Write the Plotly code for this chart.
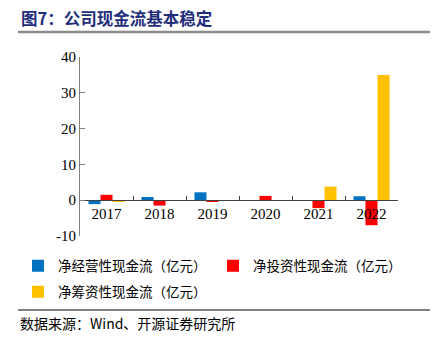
import plotly.graph_objects as go

years = ["2017", "2018", "2019", "2020", "2021", "2022"]
operating = [-1.1, 0.9, 2.2, -0.1, -0.2, 1.1]
investing = [1.5, -1.5, -0.4, 1.2, -2.2, -7.0]
financing = [-0.3, -0.1, -0.1, -0.2, 3.8, 35.0]
series_names = ["净经营性现金流（亿元）", "净投资性现金流（亿元）", "净筹资性现金流（亿元）"]
colors = ["#0070C0", "#FF0000", "#FFC000"]
legend_ids = ["legend", "legend", "legend2"]
y_ticks = [-10, 0, 10, 20, 30, 40]
y_ticktext = ["-10", "0", "10", "20", "30", "40"]
title_text = "图7：公司现金流基本稳定"
source_text = "数据来源：Wind、开源证券研究所"

W, H = 435, 339
L, R, T, B = 80, 37, 57, 103
PW, PH = W - L - R, H - T - B


def px_x(x):
    return (x - L) / PW


def px_y(y):
    return (H - B - y) / PH


fig = go.Figure()
for name, vals, c, lg in zip(series_names, [operating, investing, financing], colors, legend_ids):
    fig.add_trace(go.Bar(x=years, y=vals, name=name, marker_color=c, marker_line_width=0, legend=lg))

ymin, ymax = -10, 40
zero_pos = (0 - ymin) / (ymax - ymin)
legend_font = dict(family="Noto Sans CJK SC", size=13.5, color="#000")

fig.update_layout(
    width=W, height=H,
    margin=dict(l=L, r=R, t=T, b=B),
    paper_bgcolor="white", plot_bgcolor="white",
    barmode="group", bargap=0.32, bargroupgap=0,
    font=dict(family="Liberation Serif", size=14, color="#000"),
    showlegend=True,
    legend=dict(
        orientation="h", x=px_x(18), y=px_y(266), xanchor="left", yanchor="middle",
        entrywidth=150, entrywidthmode="pixels", font=legend_font,
        bgcolor="rgba(0,0,0,0)", traceorder="normal",
    ),
    legend2=dict(
        orientation="h", x=px_x(18), y=px_y(292), xanchor="left", yanchor="middle",
        entrywidth=150, entrywidthmode="pixels", font=legend_font,
        bgcolor="rgba(0,0,0,0)",
    ),
    xaxis=dict(
        anchor="free", position=zero_pos, showline=True, linecolor="#404040", linewidth=1,
        ticks="inside", tickson="boundaries", ticklen=4, tickcolor="#404040",
        showgrid=False, zeroline=False,
        tickfont=dict(family="Liberation Serif", size=15, color="#000"),
    ),
    yaxis=dict(
        range=[ymin, ymax], tickvals=y_ticks, ticktext=y_ticktext,
        showline=True, linecolor="#808080", linewidth=1,
        ticks="inside", ticklen=5, tickcolor="#808080",
        showgrid=False, zeroline=False,
        tickfont=dict(family="Liberation Serif", size=15, color="#000"),
    ),
)

fig.add_annotation(
    text=title_text, xref="paper", yref="paper", x=px_x(19), y=px_y(18),
    xanchor="left", yanchor="middle", showarrow=False,
    font=dict(family="Noto Sans CJK SC", size=16.5, color="#1F2D7A", weight="bold"),
)
fig.add_annotation(
    text=source_text, xref="paper", yref="paper", x=px_x(18), y=px_y(323),
    xanchor="left", yanchor="middle", showarrow=False,
    font=dict(family="Noto Sans CJK SC", size=14, color="#000"),
)
fig.add_shape(type="line", xref="paper", yref="paper", x0=px_x(18), x1=px_x(430),
              y0=px_y(32), y1=px_y(32), line=dict(color="#8C8C8C", width=2.5))
fig.add_shape(type="line", xref="paper", yref="paper", x0=px_x(18), x1=px_x(430),
              y0=px_y(310), y1=px_y(310), line=dict(color="#000", width=1))

fig.write_html("out.html")
